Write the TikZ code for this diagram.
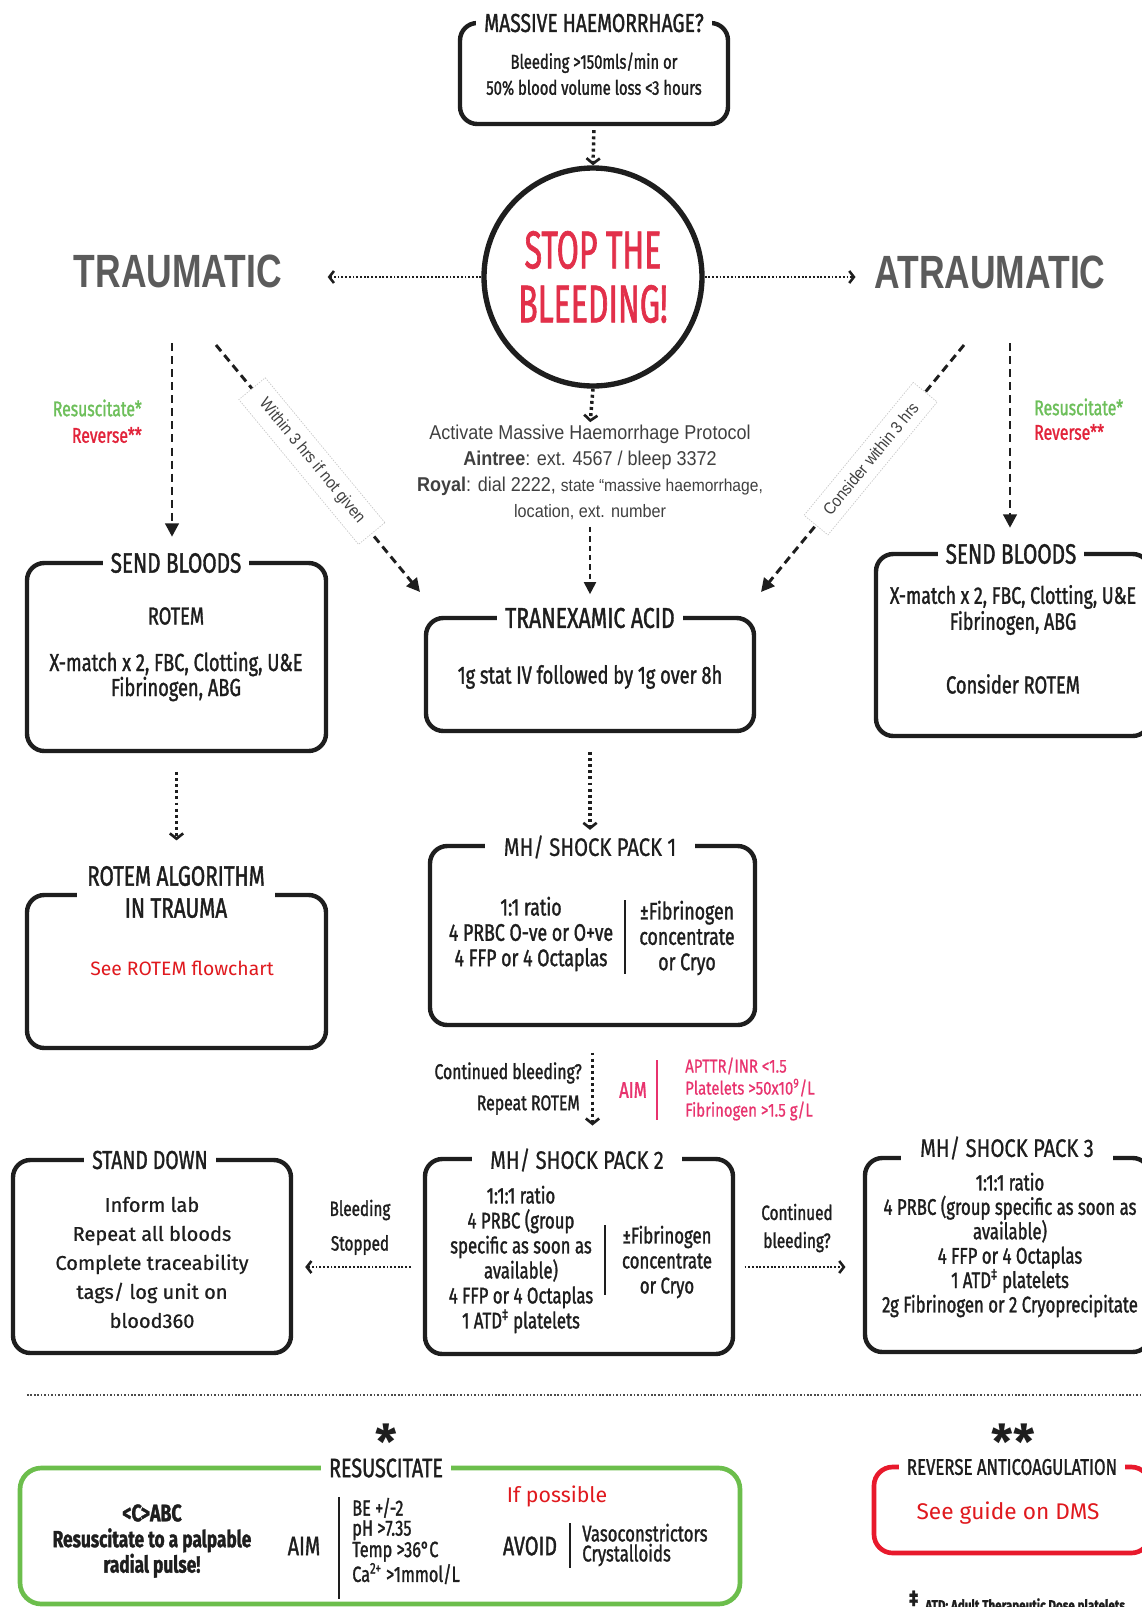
\documentclass[tikz,border=0pt]{standalone}
\usepackage{fontspec}
\setmainfont{Fira Sans}
\newfontfamily\osw{Fira Sans}[FakeStretch=0.74,FakeBold=1.3]
\newfontfamily\oswx{Fira Sans}[FakeStretch=0.6,FakeBold=1.2]
\newfontfamily\din{Fira Sans}
\newfontfamily\dinm{Fira Sans}[FakeBold=0.7]
\newfontfamily\dinc{Fira Sans}[FakeStretch=0.8,FakeBold=0.6]
\newfontfamily\ari{Liberation Sans}[FakeStretch=0.9]
\newfontfamily\arib{Liberation Sans}[FakeStretch=0.76]
\usetikzlibrary{arrows.meta}
\definecolor{stopred}{HTML}{E2304A}
\definecolor{pinkc}{HTML}{E8336E}
\definecolor{gbox}{HTML}{6CBE4C}
\definecolor{gtext}{HTML}{6DBF5A}
\definecolor{rtext}{HTML}{E2233A}
\definecolor{flow}{HTML}{E0191E}
\definecolor{rbox}{HTML}{E8192C}
\definecolor{grayt}{HTML}{5B5B5B}
\definecolor{ink}{HTML}{1E1E1E}
\tikzset{
  box/.style={draw=ink, line width=3.3pt, rounded corners=13pt, inner sep=0pt},
  ttl/.style={fill=white, inner xsep=6pt, inner ysep=1pt, text=ink, font=\osw\fontsize{21}{22}\selectfont},
  pttl/.style={fill=white, inner xsep=14pt, inner ysep=1pt, text=ink, font=\dinc\fontsize{19}{21}\selectfont},
  body/.style={text=ink, align=center, inner sep=0pt},
  dotar/.style={draw=ink, line width=2.6pt, dash pattern=on 2.2pt off 2.4pt, -{Straight Barb[length=4pt,width=10pt,line width=2pt]}},
  finedot/.style={draw=ink, line width=1.9pt, dash pattern=on 1.4pt off 1.4pt, -{Straight Barb[length=3.5pt,width=9pt,line width=1.9pt]}},
  dashar/.style={draw=ink, line width=2.2pt, dash pattern=on 6pt off 3.8pt, -{Triangle[length=10pt,width=10pt]}},
  thindash/.style={draw=ink, line width=1.4pt, dash pattern=on 4pt off 3pt, -{Triangle[length=9pt,width=9pt]}},
  lbl/.style={draw=gray!45, dash pattern=on 1pt off 1pt, line width=0.5pt, fill=white, inner xsep=12pt, inner ysep=7pt, text=ink!85, font=\ari\fontsize{12.5}{14}\selectfont},
  divider/.style={draw=ink, line width=1.5pt},
}
\begin{document}
\begin{tikzpicture}[x=0.75pt,y=-0.75pt]
\useasboundingbox (0,0) rectangle (1142,1607);
\clip (0,0) rectangle (1142,1607);
\fill[white] (0,0) rectangle (1142,1607);

% ---------- top ----------
\node[box, minimum width=201pt, minimum height=75.75pt] (mh) at (594,73.5) {};
\node[ttl, font=\osw\fontsize{19.5}{21}\selectfont] (mht) at (594,23) {MASSIVE HAEMORRHAGE?};
\node[body, font=\osw\fontsize{15}{19.5}\selectfont] (mhb) at (594,74) {Bleeding >150mls/min or\\50\% blood volume loss <3 hours};

\node[circle, draw=ink, line width=4pt, minimum size=163.5pt, inner sep=0pt] (stop) at (593,277) {};
\node[text=stopred, align=center, inner sep=0pt, font=\oswx\fontsize{40}{40.5}\selectfont] (stoptxt) at (593,277) {STOP THE\\BLEEDING!};
\draw[dotar, shorten <=3pt] (mh.south) -- (stop.north);

\node[text=grayt, inner sep=0pt, font=\arib\bfseries\fontsize{35}{35}\selectfont] (trau) at (178,271) {TRAUMATIC};
\node[text=grayt, inner sep=0pt, font=\arib\bfseries\fontsize{35}{35}\selectfont] (atrau) at (990,272) {ATRAUMATIC};
\draw[finedot, shorten >=34pt] (stop.west) -- (stop.west -| trau.east);
\draw[finedot, shorten >=14pt] (stop.east) -- (stop.east -| atrau.west);

% ---------- second row ----------
\coordinate (tl1) at (172,343);
\coordinate (tr1) at (1010,343);
\coordinate (dl1) at (216,345);
\coordinate (dl2) at (420,592);
\coordinate (dr1) at (964,345);
\coordinate (dr2) at (761,592);

\node[anchor=east, inner sep=0pt, text=gtext, font=\osw\fontsize{16}{17}\selectfont] (resL) at (142,408) {Resuscitate*};
\node[anchor=east, inner sep=0pt, text=rtext, font=\osw\fontsize{16}{17}\selectfont] (revL) at (142,435) {Reverse**};
\node[anchor=west, inner sep=0pt, text=gtext, font=\osw\fontsize{16}{17}\selectfont] (resR) at (1034,407) {Resuscitate*};
\node[anchor=west, inner sep=0pt, text=rtext, font=\osw\fontsize{16}{17}\selectfont] (revR) at (1034,432) {Reverse**};

\node[body, text=ink!85, font=\ari\fontsize{15}{19.5}\selectfont] (act) at (590,472.5) {Activate Massive Haemorrhage Protocol\\\textbf{Aintree}: ext. 4567 / bleep 3372\\\textbf{Royal}: dial 2222, {\fontsize{13}{19.5}\selectfont state “massive haemorrhage,}\\{\fontsize{13.5}{19.5}\selectfont location, ext. number}};
\draw[dotar, shorten >=2pt] (stop.south) -- (act.north);

% SEND BLOODS left
\node[box, minimum width=224.25pt, minimum height=141pt] (sbL) at (176.5,657) {};
\node[ttl] (sbLt) at (176,563) {SEND BLOODS};
\node[body, font=\osw\fontsize{18.5}{19}\selectfont] (sbL1) at (176,616) {ROTEM};
\node[body, font=\osw\fontsize{18.5}{18.75}\selectfont] (sbL2) at (176,676.5) {X-match x 2, FBC, Clotting, U\&E\\Fibrinogen, ABG};
\draw[dashar, shorten >=11pt] (tl1) -- (tl1 |- sbLt.north);

% TRANEXAMIC
\node[box, minimum width=246pt, minimum height=84.75pt] (txa) at (590,674.5) {};
\node[ttl, font=\osw\fontsize{21.5}{22}\selectfont] (txat) at (590,618) {TRANEXAMIC ACID};
\node[body, font=\osw\fontsize{18.5}{19}\selectfont] (txab) at (590,677) {1g stat IV followed by 1g over 8h};
\draw[thindash, shorten <=5pt, shorten >=9pt] (act.south) -- (act.south |- txat.north);

\draw[dashar] (dl1) -- node[lbl, sloped, pos=0.47] (lblL) {Within 3 hrs if not given} (dl2);
\draw[dashar] (dr1) -- node[lbl, sloped, pos=0.46] (lblR) {Consider within 3 hrs} (dr2);

% SEND BLOODS right
\node[box, minimum width=205.5pt, minimum height=136.5pt] (sbR) at (1013,645) {};
\node[ttl] (sbRt) at (1011,554) {SEND BLOODS};
\node[body, font=\osw\fontsize{18}{19.5}\selectfont] (sbR1) at (1013,610) {X-match x 2, FBC, Clotting, U\&E\\Fibrinogen, ABG};
\node[body, font=\osw\fontsize{18.5}{19}\selectfont] (sbR2) at (1013,684) {Consider ROTEM};
\draw[dashar, shorten >=11pt] (tr1) -- (tr1 |- sbRt.north);

% ROTEM algorithm
\node[box, minimum width=224.25pt, minimum height=114.75pt] (rotem) at (176.5,971.5) {};
\node[ttl, align=center, inner xsep=8pt, font=\osw\fontsize{21}{24}\selectfont] (rotemt) at (176,892) {ROTEM ALGORITHM\\IN TRAUMA};
\node[body, text=flow, font=\din\fontsize{14.5}{16}\selectfont] (rotemb) at (182,968) {See ROTEM flowchart};
\draw[dotar, shorten <=14pt, shorten >=18pt] (sbL.south) -- (sbL.south |- rotemt.north);

% PACK 1
\node[box, minimum width=243.75pt, minimum height=134.25pt] (p1) at (592.5,935.5) {};
\node[pttl] (p1t) at (590,847) {MH/ SHOCK PACK 1};
\node[body, font=\osw\fontsize{18}{19}\selectfont] (p1l) at (531,934) {1:1 ratio\\4 PRBC O-ve or O+ve\\4 FFP or 4 Octaplas};
\node[body, font=\osw\fontsize{18}{19}\selectfont] (p1r) at (687,938) {±Fibrinogen\\concentrate\\or Cryo};
\draw[divider] (625,900) -- (625,974);
\draw[dotar, shorten <=14pt, shorten >=3pt] (txa.south) -- (txa.south |- p1t.north);

% continued bleeding
\node[anchor=east, inner sep=0pt, text=ink, font=\osw\fontsize{16}{18}\selectfont] (cb1) at (582,1073) {Continued bleeding?};
\node[anchor=east, inner sep=0pt, text=ink, font=\osw\fontsize{16}{18}\selectfont] (cb2) at (580,1105) {Repeat ROTEM};
\node[inner sep=0pt, text=pinkc, font=\osw\fontsize{17}{18}\selectfont] (aim1) at (633,1090) {AIM};
\draw[pinkc, line width=1.3pt] (657,1060) -- (657,1120);
\node[anchor=west, align=left, inner sep=0pt, text=pinkc, font=\dinc\fontsize{14}{16.5}\selectfont] (aimt) at (685,1089) {APTTR/INR <1.5\\Platelets >50x10\textsuperscript{9}/L\\Fibrinogen >1.5 g/L};

% PACK 2
\node[box, minimum width=231pt, minimum height=146.25pt] (p2) at (579,1256.5) {};
\node[pttl] (p2t) at (577,1160) {MH/ SHOCK PACK 2};
\node[body, font=\osw\fontsize{17}{18.75}\selectfont] (p2l) at (521,1259.5) {1:1:1 ratio\\4 PRBC (group\\specific as soon as\\available)\\4 FFP or 4 Octaplas\\1 ATD\textsuperscript{‡} platelets};
\node[body, font=\osw\fontsize{17}{18.75}\selectfont] (p2r) at (667,1262) {±Fibrinogen\\concentrate\\or Cryo};
\draw[divider] (605,1225) -- (605,1295);
\draw[dotar, shorten <=19pt, shorten >=16pt] (p1.south) -- (p1.south |- p2t.north);

% STAND DOWN
\node[box, minimum width=208.5pt, minimum height=144.75pt] (sd) at (152,1256.5) {};
\node[ttl, font=\osw\fontsize{19.5}{21}\selectfont] (sdt) at (150,1160) {STAND DOWN};
\node[body, font=\dinm\fontsize{15}{21.75}\selectfont] (sdb) at (152,1262.5) {Inform lab\\Repeat all bloods\\Complete traceability\\tags/ log unit on\\blood360};

\coordinate (rowB) at (0,1267);
\node[inner sep=0pt, text=ink, font=\osw\fontsize{15.5}{17}\selectfont] (bs1) at (360,1210) {Bleeding};
\node[inner sep=0pt, text=ink, font=\osw\fontsize{15.5}{17}\selectfont] (bs2) at (360,1245) {Stopped};
\draw[finedot, shorten <=9pt, shorten >=9pt] (p2.west |- rowB) -- (sd.east |- rowB);

% PACK 3
\node[box, minimum width=213.75pt, minimum height=145.5pt] (p3) at (1007.5,1255) {};
\node[pttl] (p3t) at (1007,1148) {MH/ SHOCK PACK 3};
\node[body, font=\osw\fontsize{17}{18.3}\selectfont] (p3b) at (1010,1245) {1:1:1 ratio\\4 PRBC (group specific as soon as\\available)\\4 FFP or 4 Octaplas\\1 ATD\textsuperscript{‡} platelets\\2g Fibrinogen or 2 Cryoprecipitate};
\node[inner sep=0pt, text=ink, font=\osw\fontsize{15.5}{17}\selectfont] (cc1) at (797,1212) {Continued};
\node[inner sep=0pt, text=ink, font=\osw\fontsize{15.5}{17}\selectfont] (cc2) at (797,1242) {bleeding?};
\draw[finedot, shorten <=7pt, shorten >=13pt] (p2.east |- rowB) -- (p3.west |- rowB);

% separator
\draw[ink!80, line width=1.6pt, dash pattern=on 1.2pt off 1.4pt] (27,1395) -- (1142,1395);

% ---------- bottom ----------
\node[inner sep=0pt, text=ink, font=\din\bfseries\fontsize{36}{36}\selectfont] (star1) at (386,1442) {*};
\node[inner sep=0pt, text=ink, font=\din\bfseries\fontsize{36}{36}\selectfont] (star2) at (1013,1442) {**};

\node[box, draw=gbox, line width=3.5pt, rounded corners=16pt, minimum width=540pt, minimum height=102pt] (res) at (380,1536) {};
\node[ttl, font=\osw\fontsize{20}{21}\selectfont] (rest) at (386,1468) {RESUSCITATE};
\node[body, font=\osw\bfseries\fontsize{18}{19}\selectfont] (cabc) at (152,1513) {<C>ABC};
\node[body, font=\osw\bfseries\fontsize{17.5}{18}\selectfont] (palp) at (152,1553) {Resuscitate to a palpable\\radial pulse!};
\node[inner sep=0pt, text=ink, font=\osw\fontsize{20}{21}\selectfont] (aim2) at (304,1546) {AIM};
\draw[divider, line width=1.2pt] (339,1497) -- (339,1599);
\node[anchor=west, align=left, inner sep=0pt, text=ink, font=\osw\fontsize{16.5}{15}\selectfont] (aimv) at (352,1541) {BE +/-2\\pH >7.35\\Temp >36°C\\Ca\textsuperscript{2+} >1mmol/L};
\node[inner sep=0pt, text=flow, font=\din\fontsize{16}{17}\selectfont] (ifp) at (557,1496) {If possible};
\node[inner sep=0pt, text=ink, font=\osw\fontsize{20}{21}\selectfont] (avoid) at (530,1546) {AVOID};
\draw[divider, line width=1.2pt] (570,1523) -- (570,1568);
\node[anchor=west, align=left, inner sep=0pt, text=ink, font=\osw\fontsize{17}{15}\selectfont] (avv) at (582,1545) {Vasoconstrictors\\Crystalloids};

\node[box, draw=rbox, line width=3.5pt, rounded corners=14pt, minimum width=207pt, minimum height=64.5pt] (rev) at (1012,1510) {};
\node[ttl, font=\osw\fontsize{17}{19}\selectfont] (revt) at (1012,1467) {REVERSE ANTICOAGULATION};
\node[body, text=flow, font=\din\fontsize{17}{19}\selectfont] (revb) at (1008,1513) {See guide on DMS};

\node[anchor=base west, inner sep=0pt, text=ink, font=\osw\bfseries\fontsize{17}{17}\selectfont] (ddag) at (909,1606) {‡};
\node[anchor=base west, inner sep=0pt, text=ink, font=\osw\bfseries\fontsize{11.8}{13}\selectfont] (foot) at (925,1611) {ATD: Adult Therapeutic Dose platelets};
\end{tikzpicture}
\end{document}
